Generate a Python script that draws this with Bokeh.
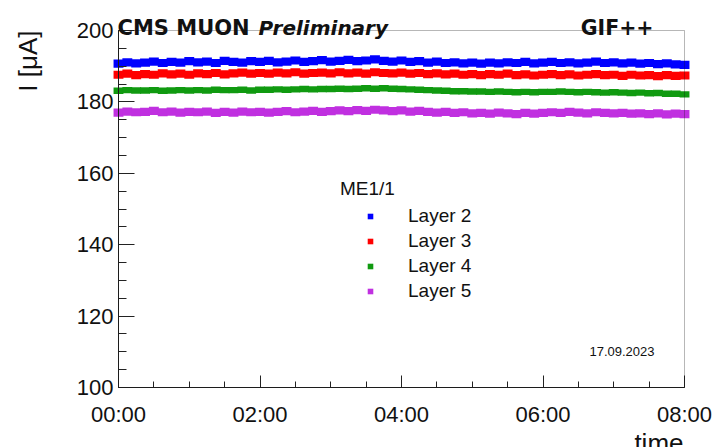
import numpy as np
from bokeh.plotting import figure
from bokeh.models import (ColumnDataSource, FixedTicker, Label, Legend, LegendItem,
                          Range1d, BoxAnnotation)
from bokeh.embed import file_html
from bokeh.resources import INLINE

# ---------------- data ----------------
hours = [i * 0.125 for i in range(65)]  # 00:00 .. 08:00 every 7.5 min

layer2 = [190.7, 191.1, 190.8, 191.0, 191.3, 190.9, 191.2, 191.0, 191.4,
          191.1, 191.3, 190.9, 191.5, 191.2, 191.0, 191.4, 191.2,
          191.5, 191.1, 191.3, 191.6, 191.2, 191.4, 191.7, 191.3,
          191.5, 191.8, 191.4, 191.6, 191.9, 191.5, 191.3, 191.6,
          191.2, 191.4, 191.0, 191.3, 190.9, 191.1, 190.8, 191.0,
          190.7, 191.0, 190.8, 191.1, 190.9, 191.2, 190.8, 191.0,
          191.2, 190.9, 191.1, 190.8, 191.0, 191.3, 190.9, 191.1,
          190.8, 191.0, 190.7, 190.9, 190.6, 190.8, 190.5, 190.4]

layer3 = [187.6, 187.9, 187.5, 187.8, 187.6, 188.0, 187.7, 187.9, 187.6,
          188.0, 187.8, 188.1, 187.7, 188.0, 188.2, 187.9, 188.1,
          187.9, 188.2, 188.0, 188.3, 187.9, 188.1, 188.2, 188.0,
          188.3, 188.0, 188.2, 187.9, 188.3, 188.1, 188.0, 188.2,
          187.9, 188.1, 187.8, 188.0, 187.7, 187.9, 187.6, 187.8,
          187.5, 187.8, 187.6, 187.9, 187.5, 187.7, 187.4, 187.6,
          187.8, 187.5, 187.7, 187.4, 187.6, 187.8, 187.5, 187.6,
          187.3, 187.6, 187.4, 187.5, 187.2, 187.5, 187.3, 187.4]

layer4 = [183.1, 183.3, 183.2, 183.2, 183.3, 183.1, 183.2, 183.3, 183.2,
          183.3, 183.2, 183.4, 183.3, 183.3, 183.4, 183.2, 183.4,
          183.4, 183.5, 183.4, 183.5, 183.6, 183.5, 183.6, 183.6,
          183.7, 183.6, 183.7, 183.8, 183.7, 183.8, 183.7, 183.6,
          183.5, 183.4, 183.3, 183.2, 183.1, 183.0, 183.0, 182.9,
          182.9, 182.8, 182.9, 182.8, 182.7, 182.8, 182.7, 182.8,
          182.8, 182.9, 182.8, 182.7, 182.8, 182.7, 182.6, 182.7,
          182.6, 182.5, 182.6, 182.4, 182.5, 182.3, 182.3, 182.1]

layer5 = [177.0, 177.3, 177.1, 177.2, 177.5, 177.1, 177.3, 177.0, 177.2,
          177.1, 177.3, 176.9, 177.2, 177.0, 177.3, 177.1, 177.2,
          177.0, 177.2, 177.4, 177.1, 177.3, 177.5, 177.2, 177.4,
          177.6, 177.4, 177.7, 177.5, 177.8, 177.6, 177.4, 177.6,
          177.3, 177.5, 177.2, 177.0, 177.2, 176.9, 177.1, 176.8,
          176.9, 176.7, 177.0, 176.8, 176.6, 176.9, 176.7, 176.9,
          177.1, 176.9, 177.2, 177.0, 176.8, 177.1, 176.9, 176.8,
          176.9, 176.7, 176.8, 176.6, 176.8, 176.5, 176.7, 176.6]

series_names = ["Layer 2", "Layer 3", "Layer 4", "Layer 5"]
series_values = [layer2, layer3, layer4, layer5]
series_colors = ["#0000ff", "#ff0000", "#109a10", "#c030e0"]

x_ticks = [0, 2, 4, 6, 8]
x_tick_labels = ["00:00", "02:00", "04:00", "06:00", "08:00"]
x_minor = [i * 0.5 for i in range(17)]
y_ticks = [100, 120, 140, 160, 180, 200]
y_minor = list(range(100, 201, 5))
X_MIN, X_MAX = 0, 8
Y_MIN, Y_MAX = 100, 200

# ---------------- layout (pixels) ----------------
W, H = 716, 447
FL, FR, FT, FB = 118, 684, 30, 387          # plot box in canvas pixels
xs = (FR - FL) / (X_MAX - X_MIN)
ys = (FB - FT) / (Y_MAX - Y_MIN)
x_range = Range1d(X_MIN - FL / xs, X_MAX + (W - FR) / xs)
y_range = Range1d(Y_MIN - (H - FB) / ys, Y_MAX + FT / ys)

FONT = "Liberation Sans"
INK = "#111111"
p = figure(width=W, height=H, output_backend="svg", toolbar_location=None,
           x_range=x_range, y_range=y_range,
           min_border_left=0, min_border_right=0, min_border_top=0, min_border_bottom=0)
p.background_fill_color = "white"
p.border_fill_color = "white"
p.outline_line_color = None
p.xgrid.visible = False
p.ygrid.visible = False

for ax in (p.xaxis[0], p.yaxis[0]):
    ax.axis_line_color = "#222222"
    ax.major_tick_line_color = "#222222"
    ax.minor_tick_line_color = "#222222"
    ax.major_tick_out = 0
    ax.minor_tick_out = 0
    ax.major_label_text_font = FONT
    ax.major_label_text_font_size = "22px"
    ax.major_label_text_color = INK

xa = p.xaxis[0]
xa.fixed_location = Y_MIN
xa.bounds = (X_MIN, X_MAX)
xa.ticker = FixedTicker(ticks=x_ticks, minor_ticks=x_minor)
xa.major_label_overrides = {t: l for t, l in zip(x_ticks, x_tick_labels)}
xa.major_tick_in = 12
xa.minor_tick_in = 6
xa.major_label_standoff = 14

ya = p.yaxis[0]
ya.fixed_location = X_MIN
ya.bounds = (Y_MIN, Y_MAX)
ya.ticker = FixedTicker(ticks=y_ticks, minor_ticks=y_minor)
ya.major_tick_in = 16
ya.minor_tick_in = 8
ya.major_label_standoff = 5

# plot box frame
p.add_layout(BoxAnnotation(left=X_MIN, right=X_MAX, bottom=Y_MIN, top=Y_MAX,
                           fill_color=None, line_color=INK, line_width=1))

heights = [2.3, 2.3, 1.8, 2.3]
items = []
for name, vals, col, h in zip(series_names, series_values, series_colors, heights):
    src = ColumnDataSource(dict(t=hours, v=vals))
    mk = p.scatter(x="t", y="v", source=src, marker="square", size=5,
                   fill_color=col, line_color=None)
    p.rect(x="t", y="v", width=0.14, height=h, source=src,
           fill_color=col, line_color=None)
    items.append(LegendItem(label=name, renderers=[mk]))

legend = Legend(items=items, title="ME1/1", location=(340, 144),
                glyph_width=60, glyph_height=14, label_height=25, spacing=0,
                label_standoff=8, padding=0, margin=0, title_standoff=3,
                border_line_color=None, background_fill_alpha=0,
                label_text_font=FONT, label_text_font_size="19px",
                title_text_font=FONT, title_text_font_size="19px",
                title_text_font_style="normal", label_text_color=INK,
                title_text_color=INK)
p.add_layout(legend, "center")

# texts (screen units = canvas pixels, y from bottom)
def add_label(txt, x, y, **kw):
    p.add_layout(Label(x=x, y=H - y, x_units="screen", y_units="screen",
                       text=txt, text_color=INK, **kw))

add_label("CMS MUON", 117, 27, text_font="DejaVu Sans", text_font_size="21px",
          text_font_style="bold", text_align="left", text_baseline="alphabetic")
add_label("Preliminary", 258, 27, text_font="DejaVu Sans", text_font_size="20px",
          text_font_style="bold italic", text_align="left", text_baseline="alphabetic")
add_label("GIF++", 653, 27, text_font="DejaVu Sans", text_font_size="20.5px",
          text_font_style="bold", text_align="right", text_baseline="alphabetic")
add_label("17.09.2023", 654, 351, text_font=FONT, text_font_size="13px",
          text_align="right", text_baseline="alphabetic")
add_label("time", 683, 442, text_font=FONT, text_font_size="26px",
          text_align="right", text_baseline="alphabetic")
add_label("I [\u03bcA]", 27, 30, text_font=FONT, text_font_size="26px",
          text_align="right", text_baseline="alphabetic", angle=np.pi / 2)

open("out.html", "w").write(file_html(p, INLINE))
